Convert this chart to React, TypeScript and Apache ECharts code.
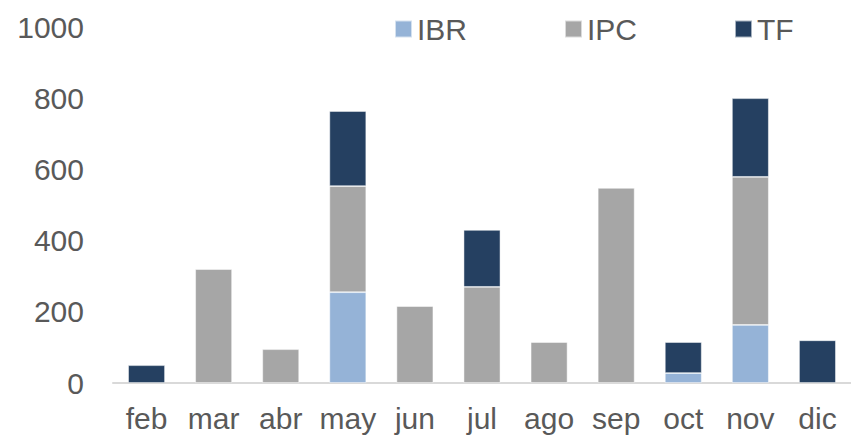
import React, { useEffect, useRef } from "react";
import * as echarts from "echarts";

const months = ["feb", "mar", "abr", "may", "jun", "jul", "ago", "sep", "oct", "nov", "dic"];
const ibr = [0, 0, 0, 255, 0, 0, 0, 0, 28, 163, 0];
const ipc = [0, 320, 95, 298, 216, 270, 115, 548, 0, 416, 0];
const tf = [50, 0, 0, 211, 0, 160, 0, 0, 87, 221, 120];
const yTicks = [0, 200, 400, 600, 800, 1000];

const FONT = "'Liberation Sans', Arial, sans-serif";
const TEXT = "#595959";

export default function App() {
  const ref = useRef<HTMLDivElement>(null);
  useEffect(() => {
    if (!ref.current) return;
    const chart = echarts.init(ref.current, undefined, { renderer: "svg" });
    const mk = (name: string, data: number[], color: string) => ({
      name,
      type: "bar",
      stack: "total",
      data: data.map((v) => (v === 0 ? null : v)),
      barCategoryGap: "45%",
      itemStyle: { color, borderColor: "rgba(255,255,255,0.6)", borderWidth: 0.8 },
    });
    chart.setOption({
      animation: false,
      textStyle: { fontFamily: FONT },
      legend: {
        top: 14,
        left: 394,
        padding: 0,
        icon: "rect",
        itemWidth: 17,
        itemHeight: 17,
        itemGap: 97,
        textStyle: { fontSize: 30, color: TEXT, fontFamily: FONT },
        data: ["IBR", "IPC", "TF"],
      },
      grid: { left: 113, right: -7, top: 27, bottom: 53, containLabel: false },
      xAxis: {
        type: "category",
        data: months,
        axisLine: { lineStyle: { color: "#D9D9D9", width: 2 } },
        axisTick: { show: false },
        axisLabel: {
          interval: 0,
          hideOverlap: false,
          fontSize: 30,
          color: TEXT,
          fontFamily: FONT,
          margin: 20,
        },
      },
      yAxis: {
        type: "value",
        min: yTicks[0],
        max: yTicks[yTicks.length - 1],
        interval: 200,
        splitLine: { show: false },
        axisLine: { show: false },
        axisTick: { show: false },
        axisLabel: {
          fontSize: 30,
          color: TEXT,
          fontFamily: FONT,
          margin: 29,
          formatter: (v: number) => String(v),
        },
      },
      series: [mk("IBR", ibr, "#95B3D7"), mk("IPC", ipc, "#A6A6A6"), mk("TF", tf, "#254061")],
    });
    return () => chart.dispose();
  }, []);
  return <div ref={ref} style={{ width: 851, height: 436, position: "absolute", left: 0, top: 0 }} />;
}
